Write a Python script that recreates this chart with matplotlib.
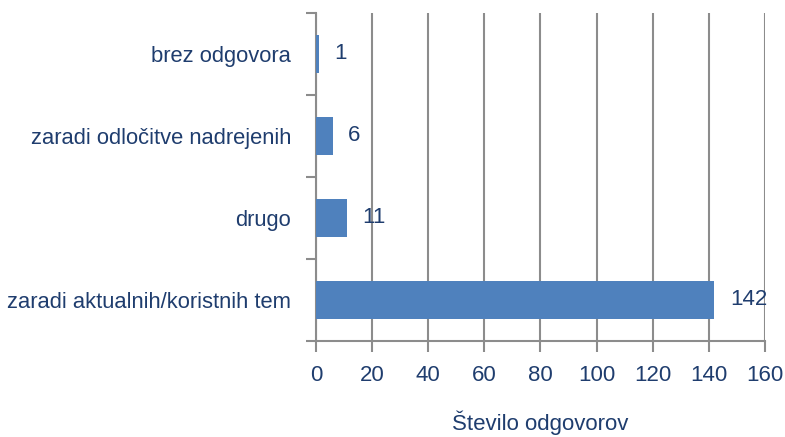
import matplotlib
matplotlib.use("Agg")
import matplotlib.pyplot as plt
from matplotlib import font_manager

categories = ["zaradi aktualnih/koristnih tem", "drugo", "zaradi odločitve nadrejenih", "brez odgovora"]
values = [142, 11, 6, 1]
x_ticks = [0, 20, 40, 60, 80, 100, 120, 140, 160]
x_label = "Število odgovorov"

names = {f.name for f in font_manager.fontManager.ttflist}
family = "Liberation Sans Narrow" if "Liberation Sans Narrow" in names else "Liberation Sans"
plt.rcParams["font.family"] = [family, "DejaVu Sans"]

text_col = "#1f3d6e"
grid_col = "#8c8c8c"
bar_col = "#4f81bd"

fig = plt.figure(figsize=(7.85, 4.37), dpi=100)
ax = fig.add_axes([0.4025, 0.2197, 0.572, 0.7506])

ypos = list(range(len(categories)))
ax.barh(ypos, values, height=0.46, color=bar_col, zorder=3)

for y, v in zip(ypos, values):
    ax.text(v + 5.5, y, str(v), va="center", ha="left", fontsize=16, color=text_col, zorder=4)

ax.set_xlim(0, 160)
ax.set_ylim(-0.5, len(categories) - 0.5)
ax.set_xticks(x_ticks)
ax.set_xticklabels([str(t) for t in x_ticks], fontsize=16, color=text_col)
ax.set_yticks(ypos)
ax.set_yticklabels(categories, fontsize=15.8, color=text_col)
ax.set_yticks([i - 0.5 for i in range(len(categories) + 1)], minor=True)
ax.tick_params(axis="y", which="major", length=0, pad=18)
ax.tick_params(axis="y", which="minor", length=7, width=1.5, color=grid_col)
ax.tick_params(axis="x", length=8, width=1.5, color=grid_col, pad=9)

ax.grid(axis="x", color=grid_col, linewidth=1.5, zorder=0)
ax.set_axisbelow(True)
for s in ["top", "right"]:
    ax.spines[s].set_visible(False)
for s in ["left", "bottom"]:
    ax.spines[s].set_color(grid_col)
    ax.spines[s].set_linewidth(1.5)

ax.set_xlabel(x_label, fontsize=16, color=text_col, labelpad=18)

fig.savefig("out.png", dpi=100)
